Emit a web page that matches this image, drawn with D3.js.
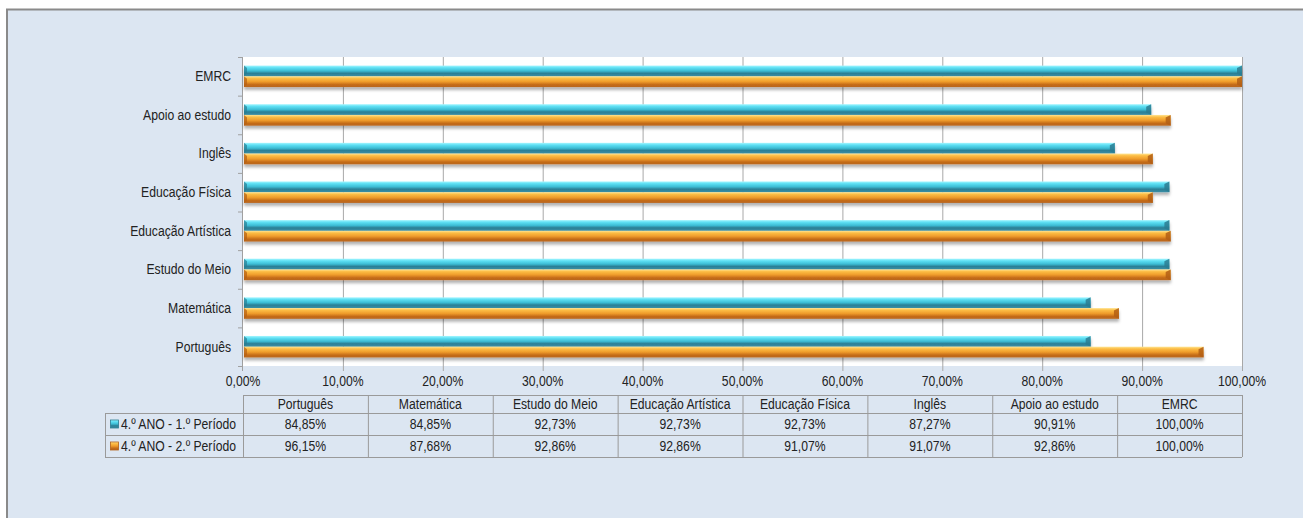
<!DOCTYPE html>
<meta charset="utf-8">
<script src="https://d3js.org/d3.v7.min.js"></script>
<div id="chart"></div>
<style>
	body {
		margin: 0;
		padding: 0;
		background: #fff;
		overflow: hidden;
	}
	text {
		font-family: "Liberation Sans", Arial, sans-serif;
		font-size: 14px;
		fill: #222;
	}
</style>
<script>
	// categories bottom -> top, as in the reference
	const categories = ["Português", "Matemática", "Estudo do Meio", "Educação Artística", "Educação Física", "Inglês", "Apoio ao estudo", "EMRC"];
	const seriesNames = ["4.º ANO - 1.º Período", "4.º ANO - 2.º Período"];
	const periodo1 = [84.85, 84.85, 92.73, 92.73, 92.73, 87.27, 90.91, 100];
	const periodo2 = [96.15, 87.68, 92.86, 92.86, 91.07, 91.07, 92.86, 100];
	const xTicks = [0, 10, 20, 30, 40, 50, 60, 70, 80, 90, 100];

	const W = 1303, H = 518;
	const plot = { left: 243, right: 1242, top: 57, bottom: 366 };
	const NARROW = 0.87; // no Arial Narrow installed: squeeze horizontally

	const pt = d3.formatLocale({ decimal: ",", thousands: ".", grouping: [3], currency: ["", ""] });
	const fmt = v => pt.format(".2f")(v) + "%";

	const svg = d3.select("#chart").append("svg")
		.attr("width", W).attr("height", H);

	// place a text at (px,py), condensed
	function put(sel, px, py) {
		return sel.attr("transform", (d, i) => `translate(${px(d, i)},${py(d, i)}) scale(${NARROW},1)`);
	}

	const defs = svg.append("defs");
	const grads = [
		{ id: "gCyan", stops: [["0%", "#a6f6ff"], ["20%", "#5ee0f4"], ["50%", "#3cbcd4"], ["72%", "#2b7f95"], ["100%", "#3b8fa6"]] },
		{ id: "gOrange", stops: [["0%", "#ffe594"], ["20%", "#fcbd45"], ["50%", "#ef9c2b"], ["78%", "#c46b18"], ["100%", "#b8661d"]] }
	];
	grads.forEach(g => {
		const lg = defs.append("linearGradient").attr("id", g.id)
			.attr("x1", 0).attr("y1", 0).attr("x2", 0).attr("y2", 1);
		g.stops.forEach(s => lg.append("stop").attr("offset", s[0]).attr("stop-color", s[1]));
	});
	defs.append("filter").attr("id", "shadow").attr("x", "-5%").attr("y", "-50%").attr("width", "110%").attr("height", "250%")
		.append("feDropShadow").attr("dx", 0).attr("dy", 3).attr("stdDeviation", 1.6)
		.attr("flood-color", "#000").attr("flood-opacity", 0.3);

	// page background + frame
	svg.append("rect").attr("x", 7).attr("y", 9.5).attr("width", W + 10).attr("height", H + 10)
		.attr("fill", "#dce6f2").attr("stroke", "#8a8a8a").attr("stroke-width", 2);

	// plot area
	svg.append("rect").attr("x", plot.left).attr("y", plot.top)
		.attr("width", plot.right - plot.left).attr("height", plot.bottom - plot.top)
		.attr("fill", "#fff");

	const x = d3.scaleLinear().domain([0, 100]).range([plot.left, plot.right]);
	const y = d3.scaleBand().domain(d3.range(categories.length).reverse())
		.range([plot.top, plot.bottom]);
	const ySub = d3.scaleBand().domain([0, 1]).range([0, y.bandwidth()]).paddingOuter(0.8).paddingInner(0);

	// gridlines
	svg.append("g").selectAll("line").data(xTicks.slice(1)).join("line")
		.attr("x1", d => x(d) + 0.5).attr("x2", d => x(d) + 0.5)
		.attr("y1", plot.top).attr("y2", plot.bottom + 5)
		.attr("stroke", "#a8a8a8").attr("stroke-width", 1);

	// left axis line and ticks
	svg.append("line").attr("x1", plot.left - 0.5).attr("x2", plot.left - 0.5)
		.attr("y1", plot.top).attr("y2", plot.bottom + 5).attr("stroke", "#a0a0a0");
	svg.append("g").selectAll("line").data(d3.range(categories.length + 1)).join("line")
		.attr("x1", plot.left - 5).attr("x2", plot.left)
		.attr("y1", d => plot.top + d * y.step() + 0.5).attr("y2", d => plot.top + d * y.step() + 0.5)
		.attr("stroke", "#a0a0a0");

	// bars
	const series = [periodo1, periodo2];
	const bars = svg.append("g");
	series.forEach((vals, s) => {
		const g = bars.append("g").attr("filter", "url(#shadow)");
		const edge = s === 0 ? "#2b7d92" : "#b35f15";
		vals.forEach((v, i) => {
			const y0 = y(i) + ySub(s), h = ySub.bandwidth();
			const x0 = x(0) + 1, x1 = x(v);
			g.append("rect").attr("x", x0).attr("y", y0).attr("width", x1 - x0).attr("height", h)
				.attr("fill", `url(#${grads[s].id})`);
			// bevelled ends
			g.append("path")
				.attr("d", `M${x1 - 5},${y0 + 2.5}L${x1},${y0}L${x1},${y0 + h}L${x1 - 5},${y0 + h - 2.5}Z`)
				.attr("fill", edge).attr("opacity", 0.85);
			g.append("path")
				.attr("d", `M${x0},${y0}L${x0 + 3},${y0 + 2.5}L${x0 + 3},${y0 + h - 2.5}L${x0},${y0 + h}Z`)
				.attr("fill", edge).attr("opacity", 0.7);
		});
	});

	// category labels
	put(svg.append("g").selectAll("text").data(categories).join("text"),
		() => plot.left - 12, (d, i) => y(i) + y.bandwidth() / 2)
		.attr("dy", "0.35em")
		.attr("text-anchor", "end")
		.text(d => d);

	// x tick labels
	put(svg.append("g").selectAll("text").data(xTicks).join("text"),
		d => x(d), () => 386)
		.attr("text-anchor", "middle")
		.text(d => fmt(d));

	// data table
	const colW = (plot.right - plot.left) / categories.length;
	const rowY = [395, 413, 435, 457];
	const legendX = 105;
	const tbl = svg.append("g").attr("stroke", "#9a9a9a").attr("stroke-width", 1);
	tbl.append("line").attr("x1", plot.left).attr("x2", plot.right).attr("y1", rowY[0] + 0.5).attr("y2", rowY[0] + 0.5);
	rowY.slice(1).forEach(r => tbl.append("line").attr("x1", legendX).attr("x2", plot.right).attr("y1", r + 0.5).attr("y2", r + 0.5));
	d3.range(categories.length + 1).forEach(c => tbl.append("line")
		.attr("x1", plot.left + c * colW + 0.5).attr("x2", plot.left + c * colW + 0.5)
		.attr("y1", rowY[0]).attr("y2", rowY[3]));
	tbl.append("line").attr("x1", legendX + 0.5).attr("x2", legendX + 0.5).attr("y1", rowY[1]).attr("y2", rowY[3]);

	put(svg.append("g").selectAll("text").data(categories).join("text"),
		(d, i) => plot.left + (i + 0.5) * colW, () => (rowY[0] + rowY[1]) / 2)
		.attr("dy", "0.36em").attr("text-anchor", "middle")
		.text(d => d);

	series.forEach((vals, s) => {
		const cy = (rowY[s + 1] + rowY[s + 2]) / 2;
		put(svg.append("g").selectAll("text").data(vals).join("text"),
			(d, i) => plot.left + (i + 0.5) * colW, () => cy)
			.attr("dy", "0.36em").attr("text-anchor", "middle")
			.text(d => fmt(d));
		svg.append("rect").attr("x", 110.5).attr("y", cy - 4).attr("width", 8).attr("height", 8)
			.attr("fill", `url(#${grads[s].id})`).attr("stroke", s === 0 ? "#2b7d92" : "#b35f15").attr("stroke-width", 0.8);
		put(svg.append("text"), () => 121, () => cy)
			.attr("dy", "0.36em")
			.text(seriesNames[s]);
	});
</script>
